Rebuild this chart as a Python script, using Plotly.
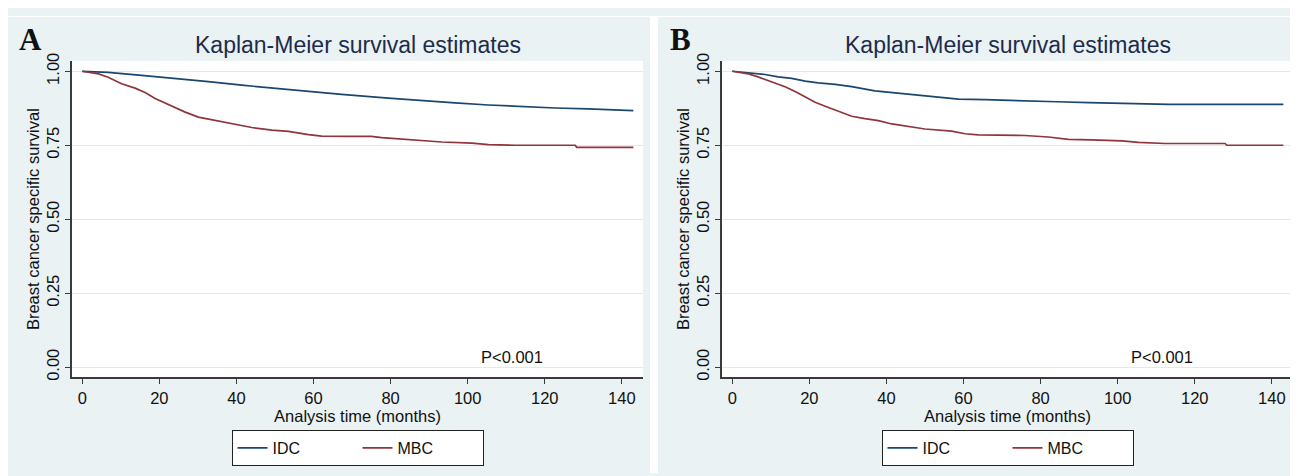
import plotly.graph_objects as go

# ---------------- data ----------------
tick_y_vals = [0, 0.25, 0.5, 0.75, 1.0]
tick_y_text = ["0.00", "0.25", "0.50", "0.75", "1.00"]
tick_x_vals = [0, 20, 40, 60, 80, 100, 120, 140]

# Panel A
a_idc_t = [0, 6.7, 15.4, 24.1, 32.7, 41.4, 50, 58.7, 67.3, 79.4, 88.1, 96.7, 105.4, 114, 122.7, 131.3, 143]
a_idc_s = [1.0, 0.996, 0.986, 0.976, 0.965, 0.953, 0.942, 0.932, 0.922, 0.909, 0.900, 0.893, 0.886, 0.880, 0.876, 0.873, 0.867]
a_mbc_t = [0, 4.2, 6.7, 10.2, 13.7, 16.3, 18.9, 21.5, 24.1, 26.7, 30.1, 33.6, 37, 40.5, 44, 49.2, 53.5, 58.7,
           62.1, 69, 75, 77.7, 82, 87.2, 93.3, 101.1, 105.4, 112.3, 127.9, 128.3, 143]
a_mbc_s = [1.0, 0.991, 0.980, 0.958, 0.943, 0.928, 0.908, 0.892, 0.878, 0.862, 0.845, 0.836, 0.829, 0.820, 0.810,
           0.801, 0.797, 0.786, 0.781, 0.780, 0.780, 0.776, 0.772, 0.765, 0.761, 0.757, 0.752, 0.750, 0.750, 0.743, 0.743]

# Panel B
b_idc_t = [0, 3.3, 8.5, 11.9, 15.4, 18.9, 22.3, 26.7, 31, 37, 43.1, 48.3, 51.8, 58.7, 65.6, 73.4, 75.3, 83.9,
           84.3, 92.5, 101.1, 113.2, 143]
b_idc_s = [1.0, 0.996, 0.989, 0.981, 0.976, 0.967, 0.961, 0.956, 0.948, 0.934, 0.926, 0.921, 0.914, 0.906, 0.904,
           0.902, 0.899, 0.899, 0.897, 0.894, 0.891, 0.888, 0.888]
b_mbc_t = [0, 4.2, 6.7, 10.2, 13.7, 16.3, 18.9, 21.5, 24.1, 27.5, 31, 34.4, 37.9, 41.4, 45.7, 50, 56.9, 60.4,
           63.8, 73.4, 75.9, 82, 87.2, 93.3, 101.1, 105.4, 112.3, 127.9, 128.3, 143]
b_mbc_s = [1.0, 0.991, 0.981, 0.965, 0.948, 0.932, 0.913, 0.895, 0.882, 0.864, 0.848, 0.840, 0.833, 0.822, 0.813,
           0.805, 0.798, 0.789, 0.785, 0.784, 0.783, 0.778, 0.770, 0.768, 0.765, 0.760, 0.756, 0.756, 0.750, 0.750]

series_names = ["IDC", "MBC"]
panel_letters = ["A", "B"]
title_text = "Kaplan-Meier survival estimates"
x_title = "Analysis time (months)"
y_title = "Breast cancer specific survival"
p_text = "P<0.001"

# ---------------- styling ----------------
# page body has an 8px margin, so the figure itself is 1290 x 468
W, H = 1290, 468
NAVY = "#1a476f"
MAROON = "#90353b"
BG = "#eaf2f3"
GRID = "#e0e9ec"
AXC = "#3a3a3a"
FONT = "Liberation Sans, Arial, sans-serif"

fig = go.Figure()

panels = [
    dict(x="x", y="y", leg="legend", t=(a_idc_t, a_mbc_t), s=(a_idc_s, a_mbc_s)),
    dict(x="x2", y="y2", leg="legend2", t=(b_idc_t, b_mbc_t), s=(b_idc_s, b_mbc_s)),
]
colors = [NAVY, MAROON]
for p in panels:
    for i in range(2):
        fig.add_trace(go.Scatter(
            x=p["t"][i], y=p["s"][i], mode="lines", name=series_names[i],
            line=dict(color=colors[i], width=1.7), xaxis=p["x"], yaxis=p["y"],
            legend=p["leg"], showlegend=True,
        ))

# pixel geometry of plot areas (figure coordinates)
ytop, ybot = 46, 370
xa = (64, 635)
xb = (714, 1285)
ydom = [1 - ybot / H, 1 - ytop / H]

axis_common = dict(showline=True, linecolor=AXC, linewidth=1.5, ticks="outside", ticklen=5,
                   tickcolor=AXC, tickwidth=1.2, zeroline=False,
                   tickfont=dict(family=FONT, size=16.5, color="#111"))
xcommon = dict(axis_common, range=[-2.67, 145.5], tickvals=tick_x_vals, showgrid=False,
               title=dict(text=x_title, font=dict(family=FONT, size=16.5, color="#111"), standoff=0))
ycommon = dict(axis_common, range=[-0.034, 1.035], tickvals=tick_y_vals, ticktext=tick_y_text,
               tickangle=-90, showgrid=True, gridcolor=GRID, gridwidth=1.2,
               title=dict(text=y_title, font=dict(family=FONT, size=16.5, color="#111"), standoff=0))

leg_common = dict(orientation="h", xanchor="center", yanchor="top", y=1 - 424 / H,
                  bgcolor="white", bordercolor="#222", borderwidth=1,
                  font=dict(family=FONT, size=16, color="#111"),
                  entrywidth=80, entrywidthmode="pixels", itemclick=False)

fig.update_layout(
    width=W, height=H,
    margin=dict(l=0, r=0, t=0, b=0),
    paper_bgcolor=BG, plot_bgcolor="white",
    xaxis=dict(xcommon, domain=[xa[0] / W, xa[1] / W], anchor="y"),
    yaxis=dict(ycommon, domain=ydom, anchor="x"),
    xaxis2=dict(xcommon, domain=[xb[0] / W, xb[1] / W], anchor="y2"),
    yaxis2=dict(ycommon, domain=ydom, anchor="x2"),
    legend=dict(leg_common, x=(xa[0] + xa[1]) / 2 / W),
    legend2=dict(leg_common, x=(xb[0] + xb[1]) / 2 / W),
    shapes=[
        dict(type="rect", xref="paper", yref="paper", x0=642 / W, x1=650 / W, y0=0, y1=1,
             fillcolor="white", line=dict(width=0), layer="below"),
        dict(type="rect", xref="paper", yref="paper", x0=0, x1=1, y0=1 - 1 / H, y1=1,
             fillcolor="white", line=dict(width=0), layer="below"),
    ],
)

annotations = []
for k, (x0, x1) in enumerate([xa, xb]):
    annotations.append(dict(text=title_text, xref="paper", yref="paper", x=(x0 + x1) / 2 / W, y=1 - 30 / H,
                            xanchor="center", yanchor="middle", showarrow=False,
                            font=dict(family=FONT, size=23, color="#1c2c4c")))
    annotations.append(dict(text="<b>" + panel_letters[k] + "</b>", xref="paper", yref="paper",
                            x=(x0 - 42) / W, y=1 - 24 / H, xanchor="center", yanchor="middle", showarrow=False,
                            font=dict(family="Liberation Serif, Times New Roman, serif", size=31, color="#111")))
    annotations.append(dict(text=p_text, xref="x" if k == 0 else "x2", yref="y" if k == 0 else "y2",
                            x=111.5, y=0.035, xanchor="center", yanchor="middle", showarrow=False,
                            font=dict(family=FONT, size=16.5, color="#111")))
fig.update_layout(annotations=annotations)

fig.write_html("out.html")
